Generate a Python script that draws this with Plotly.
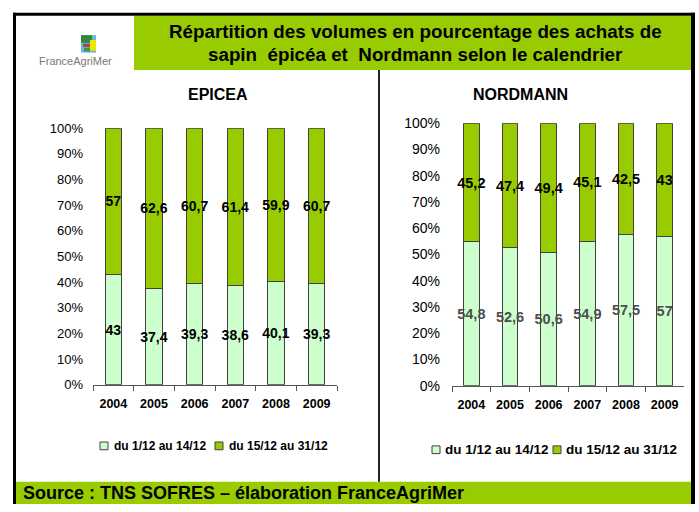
import plotly.graph_objects as go

W, H = 699, 512

years = ["2004", "2005", "2006", "2007", "2008", "2009"]
epicea_early = [43, 37.4, 39.3, 38.6, 40.1, 39.3]
epicea_late = [57, 62.6, 60.7, 61.4, 59.9, 60.7]
nordmann_early = [54.8, 52.6, 50.6, 54.9, 57.5, 57]
nordmann_late = [45.2, 47.4, 49.4, 45.1, 42.5, 43]
series_names = ["du 1/12 au 14/12", "du 15/12 au 31/12"]
y_ticks = [0, 10, 20, 30, 40, 50, 60, 70, 80, 90, 100]
y_tick_labels = [f"{v}%" for v in y_ticks]

LIGHT = "#CCFFCC"
GREEN = "#99CC00"
OUTLINE = "#404040"
FONT = "Arial, Liberation Sans, sans-serif"


def fmt(v):
    return f"{v:g}".replace(".", ",")


def px(x):
    return x / W


def py(y):
    return 1 - y / H


fig = go.Figure()

panels = [
    (epicea_early, epicea_late, "x", "y", 14, "#000000"),
    (nordmann_early, nordmann_late, "x2", "y2", 14.5, "#4d4d4d"),
]
for early, late, xa, ya, fs, early_col in panels:
    for vals, col, name, tcol in [(early, LIGHT, series_names[0], early_col),
                                  (late, GREEN, series_names[1], "#000000")]:
        fig.add_trace(go.Bar(
            x=years, y=vals, name=name, xaxis=xa, yaxis=ya,
            marker=dict(color=col, line=dict(color=OUTLINE, width=1)),
            width=0.4,
            text=[fmt(v) for v in vals],
            textposition="inside", insidetextanchor="middle",
            constraintext="none", textangle=0,
            textfont=dict(family=FONT, size=fs, color=tcol, weight="bold"),
            showlegend=False, hoverinfo="skip",
        ))

common_x = dict(type="category", showline=True, linecolor="#555555", linewidth=1,
                ticks="outside", tickson="boundaries", ticklen=5, tickcolor="#555555",
                showgrid=False, zeroline=False)
common_y = dict(range=[0, 100], tickmode="array", tickvals=y_ticks, ticktext=y_tick_labels,
                showgrid=False, zeroline=False, showline=False, ticks="")

fig.update_layout(
    width=W, height=H, margin=dict(l=0, r=0, t=0, b=0),
    paper_bgcolor="white", plot_bgcolor="white",
    barmode="stack", bargap=0.6,
    font=dict(family=FONT, color="black"),
    xaxis=dict(domain=[px(93), px(337)], anchor="y",
               tickfont=dict(size=12.5, weight="bold"), ticklabelstandoff=7, **common_x),
    yaxis=dict(domain=[py(389), py(124)], anchor="x",
               tickfont=dict(size=13), ticklabelstandoff=9, **common_y),
    xaxis2=dict(domain=[px(452), px(684)], anchor="y2",
                tickfont=dict(size=12.5, weight="bold"), ticklabelstandoff=7, **common_x),
    yaxis2=dict(domain=[py(390), py(119)], anchor="x2",
                tickfont=dict(size=14), ticklabelstandoff=11, **common_y),
)

shapes = []
# header green box
shapes.append(dict(type="rect", xref="paper", yref="paper", x0=px(134), x1=px(691),
                   y0=py(64), y1=py(8), fillcolor=GREEN, line=dict(width=0), layer="below"))
# source bar
shapes.append(dict(type="rect", xref="paper", yref="paper", x0=px(16), x1=px(691),
                   y0=py(512), y1=py(489), fillcolor=GREEN, line=dict(width=0), layer="below"))
# frame lines
shapes.append(dict(type="line", xref="paper", yref="paper", x0=px(13), x1=px(695),
                   y0=py(6.5), y1=py(6.5), line=dict(color="black", width=3)))
shapes.append(dict(type="line", xref="paper", yref="paper", x0=px(14.5), x1=px(14.5),
                   y0=py(5), y1=py(512), line=dict(color="black", width=3)))
shapes.append(dict(type="line", xref="paper", yref="paper", x0=px(693), x1=px(693),
                   y0=py(5), y1=py(512), line=dict(color="black", width=4)))
shapes.append(dict(type="line", xref="paper", yref="paper", x0=px(379), x1=px(379),
                   y0=py(64), y1=py(489), line=dict(color="#222222", width=2)))
# logo
for (x0, x1, y0, y1, c) in [(81, 96, 28, 46, "#6ab7e8"), (81, 92, 28, 36, "#2e8b3a"),
                            (90, 96, 33, 44, "#f2e600"), (83, 90, 37, 40, "#c0392b"),
                            (84, 90, 41, 45, "#3a9a40")]:
    shapes.append(dict(type="rect", xref="paper", yref="paper", x0=px(x0), x1=px(x1),
                       y0=py(y1), y1=py(y0), fillcolor=c, line=dict(width=0)))

annotations = []


def ann(text, x, y, size, xanchor="center", color="black", bold=True):
    annotations.append(dict(text=text, x=px(x), y=py(y), xref="paper", yref="paper",
                            xanchor=xanchor, yanchor="middle", showarrow=False,
                            font=dict(family=FONT, size=size, color=color,
                                      weight="bold" if bold else "normal")))


ann("Répartition des volumes en pourcentage des achats de", 415, 24, 18.8)
ann("sapin  épicéa et  Nordmann selon le calendrier", 415, 48, 18.8)
ann("FranceAgriMer", 75, 55, 11, color="#777777", bold=False)
ann("EPICEA", 217.5, 89, 16)
ann("NORDMANN", 520, 89, 16)
ann("Source : TNS SOFRES – élaboration FranceAgriMer", 21, 501, 18, xanchor="left")

# custom legends (square + label)
legend_specs = [
    (452, 12, [(100, 112), (215, 227)], 8),
    (456, 13.5, [(432, 443), (553, 564)], 8),
]
for yc, fs, items, sq in legend_specs:
    for (sx, tx), name, col in zip(items, series_names, [LIGHT, GREEN]):
        shapes.append(dict(type="rect", xref="paper", yref="paper", x0=px(sx), x1=px(sx + sq),
                           y0=py(yc + sq / 2), y1=py(yc - sq / 2), fillcolor=col,
                           line=dict(color=OUTLINE, width=1)))
        ann(name, tx, yc, fs, xanchor="left")

fig.update_layout(shapes=shapes, annotations=annotations)

post = "document.body.style.margin='0';"
fig.write_html("out.html", config={"displayModeBar": False}, post_script=post)
